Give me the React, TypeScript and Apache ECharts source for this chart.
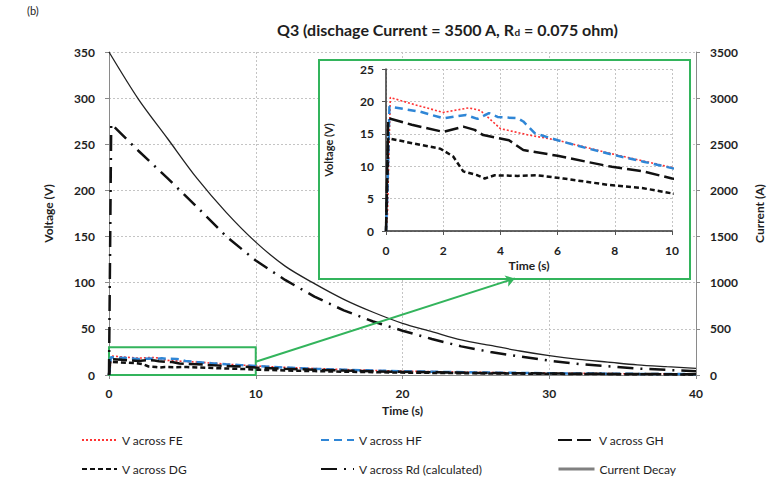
import React, { useEffect, useRef } from "react";
import * as echarts from "echarts";

// ---- data ----
const timeFE = [0, 0.05, 0.15, 1, 2, 2.5, 2.9, 3.3, 3.6, 4.0, 4.5, 5.0, 6.0, 7.0, 8.0, 9.0, 10, 12, 14, 16, 18, 20, 25, 30, 35, 40];
const voltFE = [0, 2.5, 20.6, 19.5, 18.3, 18.7, 19.0, 18.6, 17.4, 15.8, 15.3, 14.8, 14.0, 12.9, 11.8, 10.8, 9.8, 8.3, 7.0, 5.9, 5.0, 4.2, 2.9, 2.0, 1.4, 1.0];

const timeHF = [0, 0.05, 0.12, 1.2, 2.0, 2.8, 3.2, 3.6, 3.9, 4.6, 4.8, 5.2, 6.0, 7.0, 8.0, 9.0, 10, 12, 14, 16, 18, 20, 25, 30, 35, 40];
const voltHF = [0, 6, 19.2, 18.4, 17.4, 17.9, 17.3, 18.2, 17.6, 17.4, 16.9, 15.1, 14.0, 12.8, 11.7, 10.7, 9.7, 8.1, 6.8, 5.7, 4.8, 4.1, 2.8, 1.9, 1.3, 0.9];

const timeGH = [0, 0.08, 0.9, 2.0, 2.7, 3.1, 3.4, 4.3, 4.8, 6.0, 7.0, 7.9, 9.0, 10, 12, 14, 16, 18, 20, 25, 30, 35, 40];
const voltGH = [0, 17.4, 16.4, 15.3, 16.1, 15.6, 14.8, 14.0, 12.5, 11.6, 10.7, 9.9, 9.2, 8.1, 6.8, 5.7, 4.8, 4.0, 3.4, 2.3, 1.6, 1.1, 0.8];

const timeDG = [0, 0.08, 1.2, 1.9, 2.35, 2.7, 3.2, 3.45, 3.8, 4.6, 5.3, 6.2, 7.8, 9.0, 10, 12, 14, 16, 18, 20, 25, 30, 35, 40];
const voltDG = [0, 14.3, 13.3, 12.7, 11.5, 9.2, 8.6, 8.1, 8.6, 8.5, 8.6, 8.1, 7.1, 6.6, 5.8, 4.9, 4.2, 3.6, 3.1, 2.6, 1.8, 1.3, 0.9, 0.6];

const timeRd = [0, 0.15, 2, 4, 6, 8, 10, 12, 14, 16, 18, 20, 22, 24, 26, 28, 30, 32, 34, 36, 38, 40];
const voltRd = [0, 272, 243, 213, 182, 150, 124, 103, 85, 70, 58, 48, 39, 31, 25, 20, 15.5, 12, 9.5, 7, 5.5, 4];

const timeCurrent = [0, 2, 4, 6, 8, 10, 12, 14, 16, 18, 20, 22, 24, 26, 28, 30, 32, 34, 36, 38, 40];
const currentA = [3500, 2990, 2560, 2130, 1760, 1440, 1180, 990, 820, 680, 560, 470, 380, 320, 260, 210, 170, 140, 110, 90, 72];

// zoom window marked on the main chart, and arrow toward inset
const zoomBoxFrom = [0, 0];
const zoomBoxTo = [10, 30];
const arrowFrom = [10, 14.4];
const arrowTo = [27.66, 104.7];

const zip = (t: number[], v: number[]) => t.map((x, i) => [x, v[i]]);

const FONT = "Lato, 'Liberation Sans', sans-serif";
const GREEN = "#33b45c";
const TXT = "#1e1e1e";

const styles: Record<string, any> = {
  "V across FE": { color: "#ff3333", width: 1.6, type: [2, 2] },
  "V across HF": { color: "#2f86d6", width: 2.5, type: [8, 5] },
  "V across GH": { color: "#111", width: 2.5, type: [14, 5] },
  "V across DG": { color: "#111", width: 2.5, type: [5, 3] },
  "V across Rd (calculated)": { color: "#111", width: 2.5, type: [16, 7, 2, 7] },
  "Current Decay": { color: "#222", width: 1.3, type: "solid" },
};

function lineSeries(name: string, data: number[][], xi: number, yi: number, extra: any = {}) {
  const s = styles[name];
  return {
    name,
    type: "line",
    xAxisIndex: xi,
    yAxisIndex: yi,
    data,
    symbol: "none",
    showSymbol: false,
    clip: true,
    color: s.color,
    lineStyle: { color: s.color, width: s.width, type: s.type },
    ...extra,
  };
}

function legendItem(name: string, left: number, top: number, itemWidth: number, extra: any = {}) {
  return {
    data: [name],
    left,
    top,
    padding: 0,
    itemWidth,
    itemHeight: 14,
    orient: "horizontal",
    selectedMode: false,
    itemStyle: { color: "rgba(0,0,0,0)", borderColor: "rgba(0,0,0,0)", borderWidth: 0, opacity: 0 },
    textStyle: { fontFamily: FONT, fontSize: 12, color: TXT },
    ...extra,
  };
}

const axisLabel = (margin: number) => ({
  fontFamily: FONT,
  fontSize: 12,
  fontWeight: "bold",
  color: TXT,
  margin,
  formatter: (v: number) => String(v),
});
const nameStyle = (size: number) => ({
  fontFamily: FONT,
  fontSize: size,
  fontWeight: "bold",
  color: TXT,
});
const split = { show: true, lineStyle: { color: "#c4c4c4", type: [2, 2], width: 1 } };

export default function App() {
  const ref = useRef<HTMLDivElement>(null);
  useEffect(() => {
    document.body.style.margin = "0";
    if (!ref.current) return;
    const chart = echarts.init(ref.current, undefined, { renderer: "svg" });
    const option: any = {
      animation: false,
      backgroundColor: "#ffffff",
      title: {
        text: "{m|Q3 (dischage Current = 3500 A, R}{s|d}{m| = 0.075 ohm)}",
        left: 272,
        top: 16,
        textStyle: {
          rich: {
            m: { fontFamily: FONT, fontSize: 16, fontWeight: "bold", color: TXT },
            s: { fontFamily: FONT, fontSize: 10, fontWeight: "bold", color: TXT, verticalAlign: "bottom" },
          },
        },
      },
      graphic: [
        {
          type: "text",
          left: 27,
          top: 5,
          style: { text: "(b)", fontFamily: FONT, fontSize: 11, fill: TXT },
        },
        {
          type: "rect",
          z: 1,
          shape: { x: 319, y: 60, width: 371, height: 219 },
          style: { fill: "#ffffff", stroke: GREEN, lineWidth: 2 },
        },
      ],
      legend: [
        legendItem("V across FE", 81, 434, 35),
        legendItem("V across HF", 320, 434, 33),
        legendItem("V across GH", 557, 434, 36),
        legendItem("V across DG", 81, 463, 35),
        legendItem("V across Rd (calculated)", 320, 463, 33),
        legendItem("Current Decay", 557, 463, 36, { lineStyle: { color: "#808080", width: 3 } }),
      ],
      grid: [
        { left: 109, right: 72, top: 52, bottom: 108, outerBoundsMode: "none" },
        { left: 386, right: 96, top: 69, bottom: 252, outerBoundsMode: "none" },
      ],
      xAxis: [
        {
          type: "value",
          gridIndex: 0,
          min: 0,
          max: 40,
          interval: 10,
          name: "Time (s)",
          nameLocation: "middle",
          nameGap: 29,
          nameTextStyle: nameStyle(12),
          axisLine: { show: true, lineStyle: { color: "#8a8a8a", width: 1 } },
          axisTick: { show: true, length: 4, lineStyle: { color: "#8a8a8a" } },
          axisLabel: axisLabel(12),
          splitLine: split,
        },
        {
          type: "value",
          gridIndex: 1,
          min: 0,
          max: 10,
          interval: 2,
          z: 3,
          name: "Time (s)",
          nameLocation: "middle",
          nameGap: 28,
          nameTextStyle: nameStyle(12),
          axisLine: { show: true, onZero: false, lineStyle: { color: "#333", width: 1.5 } },
          axisTick: { show: true, length: 4, lineStyle: { color: "#555" } },
          axisLabel: axisLabel(13),
          splitLine: split,
        },
      ],
      yAxis: [
        {
          type: "value",
          gridIndex: 0,
          min: 0,
          max: 350,
          interval: 50,
          name: "Voltage (V)",
          nameLocation: "middle",
          nameGap: 55,
          nameRotate: 90,
          nameTextStyle: nameStyle(12),
          axisLine: { show: true, lineStyle: { color: "#8a8a8a", width: 1 } },
          axisTick: { show: true, length: 4, lineStyle: { color: "#8a8a8a" } },
          axisLabel: axisLabel(14),
          splitLine: split,
        },
        {
          type: "value",
          gridIndex: 0,
          position: "right",
          min: 0,
          max: 3500,
          interval: 500,
          name: "Current (A)",
          nameLocation: "middle",
          nameGap: 57,
          nameRotate: 90,
          nameTextStyle: nameStyle(12),
          axisLine: { show: true, lineStyle: { color: "#8a8a8a", width: 1 } },
          axisTick: { show: true, length: 4, lineStyle: { color: "#8a8a8a" } },
          axisLabel: axisLabel(14),
          splitLine: { show: false },
        },
        {
          type: "value",
          gridIndex: 1,
          min: 0,
          max: 25,
          interval: 5,
          z: 3,
          name: "Voltage (V)",
          nameLocation: "middle",
          nameGap: 52,
          nameRotate: 90,
          nameTextStyle: nameStyle(11),
          axisLine: { show: true, onZero: false, lineStyle: { color: "#333", width: 1.5 } },
          axisTick: { show: true, length: 4, lineStyle: { color: "#555" } },
          axisLabel: axisLabel(12),
          splitLine: split,
        },
      ],
      series: [
        lineSeries("V across FE", zip(timeFE, voltFE), 0, 0, {
          markArea: {
            silent: true,
            itemStyle: { color: "rgba(0,0,0,0)", borderColor: GREEN, borderWidth: 2 },
            data: [[{ coord: zoomBoxFrom }, { coord: zoomBoxTo }]],
          },
          markLine: {
            silent: true,
            symbol: ["none", "arrow"],
            symbolSize: 9,
            label: { show: false },
            lineStyle: { color: GREEN, width: 2, type: "solid" },
            data: [[{ coord: arrowFrom }, { coord: arrowTo }]],
          },
        }),
        lineSeries("V across HF", zip(timeHF, voltHF), 0, 0),
        lineSeries("V across GH", zip(timeGH, voltGH), 0, 0),
        lineSeries("V across DG", zip(timeDG, voltDG), 0, 0),
        lineSeries("V across Rd (calculated)", zip(timeRd, voltRd), 0, 0),
        lineSeries("Current Decay", zip(timeCurrent, currentA), 0, 1, { smooth: 0.3 }),
        lineSeries("V across FE", zip(timeFE, voltFE), 1, 2, { z: 6 }),
        lineSeries("V across HF", zip(timeHF, voltHF), 1, 2, { z: 6 }),
        lineSeries("V across GH", zip(timeGH, voltGH), 1, 2, { z: 6 }),
        lineSeries("V across DG", zip(timeDG, voltDG), 1, 2, { z: 6 }),
      ],
    };
    chart.setOption(option);
    return () => chart.dispose();
  }, []);
  return <div ref={ref} style={{ width: 768, height: 483 }} />;
}
